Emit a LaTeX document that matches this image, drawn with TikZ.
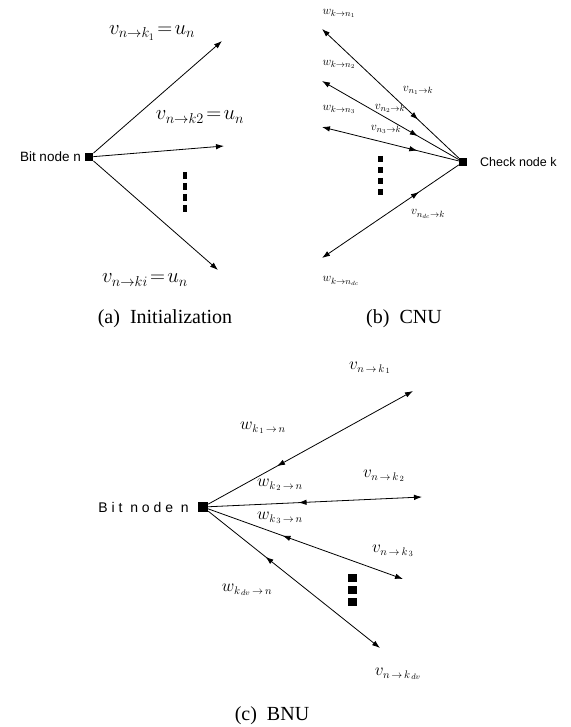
\documentclass[tikz,border=0pt]{standalone}
\usepackage{fontspec}
\setmainfont{Liberation Serif}
\newfontfamily\lblsans{Liberation Sans}
\newfontfamily\lblspaced[LetterSpace=28]{Liberation Sans}
\usetikzlibrary{arrows.meta,decorations.markings}
\tikzset{
  conn/.style={line width=0.8pt,-{Latex[length=8pt,width=5.5pt]}},
  midback/.style={postaction={decorate},decoration={markings,
     mark=at position #1 with {\arrow{Latex[length=8pt,width=5.5pt,reversed]}}}},
  sq/.style={fill=black,inner sep=0pt,minimum size=#1},
  dotsA/.style={line width=4.5pt,dash pattern=on 7pt off 4pt},
  dotsB/.style={line width=5pt,dash pattern=on 6pt off 5pt},
  dotsC/.style={line width=9pt,dash pattern=on 7.5pt off 4.5pt},
  lblA/.style={inner sep=0pt,font=\fontsize{20}{22}\selectfont},
  lblB/.style={inner sep=0pt,font=\fontsize{12.5}{13}\selectfont},
  lblC/.style={inner sep=0pt,font=\fontsize{16}{17}\selectfont},
  captext/.style={inner sep=0pt,font=\fontsize{20}{22}\selectfont},
}
\begin{document}
\begin{tikzpicture}[x=1pt,y=-1pt]
\useasboundingbox (0,0) rectangle (570,727);
% ---------- (a) Initialization ----------
\node[sq=8.5pt] (bnA) at (89,157) {};
\node[anchor=east,inner sep=0pt,font=\lblsans\fontsize{13.5}{14}\selectfont] (bnAlbl) at (81,157) {Bit node n};
\coordinate (a1) at (222,41);
\coordinate (a2) at (224,146);
\coordinate (a3) at (218,270);
\draw[conn] (bnA) -- (a1);
\draw[conn] (bnA) -- (a2);
\draw[conn] (bnA) -- (a3);
\coordinate (dA1) at (185,172);
\coordinate (dA2) at (185,212);
\draw[dotsA] (dA1) -- (dA2);
\node[lblA] (la1) at (152,33) {$v_{n\to k_1}\!=\!u_n$};
\node[lblA] (la2) at (200,117) {$v_{n\to k2}\!=\!u_n$};
\node[lblA] (la3) at (145,280) {$v_{n\to ki}\!=\!u_n$};
\node[captext] (capA) at (165,319) {(a)\ \ Initialization};
% ---------- (b) CNU ----------
\node[sq=8pt] (cnB) at (463,162) {};
\node[anchor=west,inner sep=0pt,font=\lblsans\fontsize{12.5}{13}\selectfont] (cnBlbl) at (480,162) {Check node k};
\coordinate (b1) at (322,29);
\coordinate (b2) at (322,81);
\coordinate (b3) at (322,127);
\coordinate (b4) at (322,258);
\draw[conn,midback=0.34] (cnB) -- (b1);
\draw[conn,midback=0.35] (cnB) -- (b2);
\draw[conn,midback=0.36] (cnB) -- (b3);
\draw[conn,midback=0.34] (cnB) -- (b4);
\coordinate (dB1) at (380,156);
\coordinate (dB2) at (380,195);
\draw[dotsB] (dB1) -- (dB2);
\node[lblB] (wb1) at (339,13) {$w_{k\to n_1}$};
\node[lblB] (wb2) at (339,64) {$w_{k\to n_2}$};
\node[lblB] (wb3) at (339,109) {$w_{k\to n_3}$};
\node[lblB] (wb4) at (341,281) {$w_{k\to n_{dc}}$};
\node[lblB] (vb1) at (418,90) {$v_{n_1\to k}$};
\node[lblB] (vb2) at (390,108) {$v_{n_2\to k}$};
\node[lblB] (vb3) at (386,129) {$v_{n_3\to k}$};
\node[lblB] (vb4) at (428,214) {$v_{n_{dc}\to k}$};
\node[captext] (capB) at (404,319) {(b)\ \ CNU};
% ---------- (c) BNU ----------
\node[sq=10pt] (bnC) at (203,507) {};
\node[anchor=east,inner sep=0pt,font=\lblspaced\fontsize{14}{15}\selectfont] (bnClbl) at (189,507) {Bit node n};
\coordinate (c1) at (413,391);
\coordinate (c2) at (422,497);
\coordinate (c3) at (403,579);
\coordinate (c4) at (380,648);
\draw[conn,midback=0.37] (bnC) -- (c1);
\draw[conn,midback=0.46] (bnC) -- (c2);
\draw[conn,midback=0.42] (bnC) -- (c3);
\draw[conn,midback=0.37] (bnC) -- (c4);
\coordinate (dC1) at (352,574);
\coordinate (dC2) at (352,606);
\draw[dotsC] (dC1) -- (dC2);
\node[lblC] (vc1) at (370,368) {$v_{n\,\to\,k_{\,1}}$};
\node[lblC] (wc1) at (263,428) {$w_{k_{\,1}\,\to\,n}$};
\node[lblC] (vc2) at (384,476) {$v_{n\,\to\,k_{\,2}}$};
\node[lblC] (wc2) at (280,485) {$w_{k_{\,2}\,\to\,n}$};
\node[lblC] (wc3) at (280,518) {$w_{k_{\,3}\,\to\,n}$};
\node[lblC] (vc3) at (393,551) {$v_{n\,\to\,k_{\,3}}$};
\node[lblC] (wc4) at (247,590) {$w_{k_{\,dv}\,\to\,n}$};
\node[lblC] (vc4) at (398,674) {$v_{n\,\to\,k_{\,dv}}$};
\node[captext] (capC) at (272,716) {(c)\ \ BNU};
\end{tikzpicture}
\end{document}
